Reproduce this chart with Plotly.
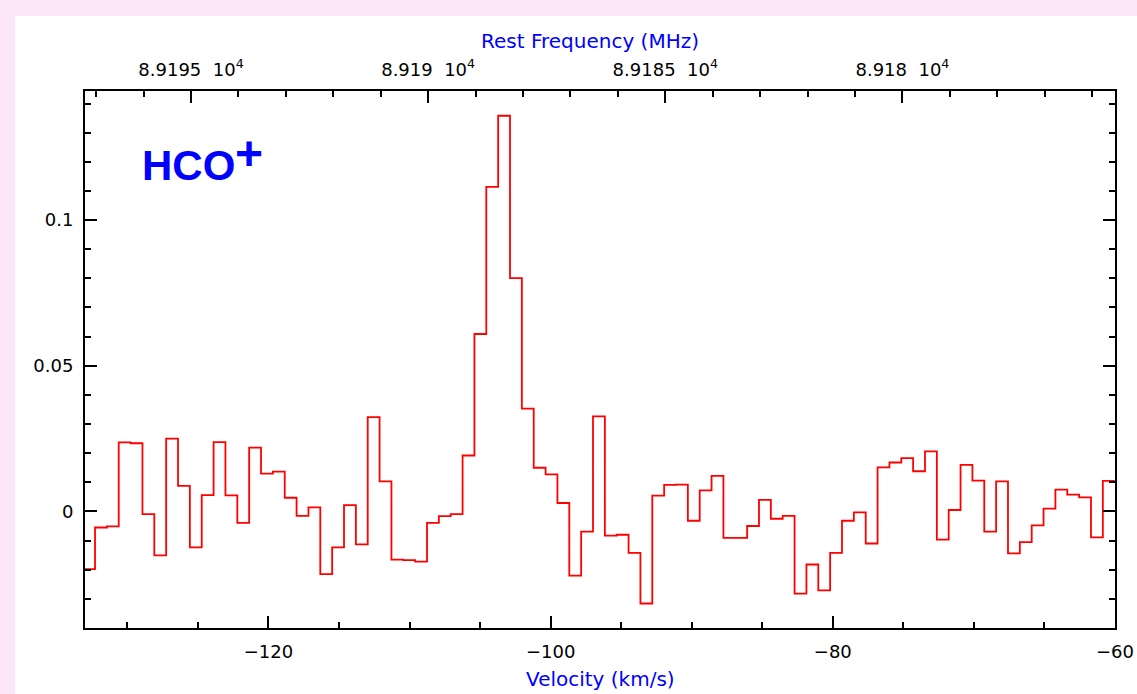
import plotly.graph_objects as go

# ---------------- data ----------------
# spectral axis: channel grid (km/s)
CHAN_WIDTH = 0.84033        # channel width (0.25 MHz) in km/s
FIRST_CENTER = -132.71      # centre of first (partially visible) channel

# antenna temperature per channel (K)
intensity = [
    -0.0198, -0.0055, -0.0051, 0.0237, 0.0234, -0.0009, -0.0151, 0.0250, 0.0088, -0.0123,
    0.0056, 0.0238, 0.0055, -0.0039, 0.0219, 0.0130, 0.0137, 0.0047, -0.0015, 0.0014,
    -0.0215, -0.0123, 0.0022, -0.0113, 0.0324, 0.0103, -0.0165, -0.0167, -0.0172, -0.0039,
    -0.0016, -0.0009, 0.0192, 0.0609, 0.1114, 0.1358, 0.0801, 0.0353, 0.0150, 0.0127,
    0.0029, -0.0220, -0.0069, 0.0326, -0.0083, -0.0080, -0.0142, -0.0316, 0.0054, 0.0091,
    0.0092, -0.0032, 0.0072, 0.0122, -0.0091, -0.0091, -0.0050, 0.0040, -0.0025, -0.0015,
    -0.0282, -0.0182, -0.0271, -0.0142, -0.0032, -0.0003, -0.0110, 0.0151, 0.0168, 0.0183,
    0.0138, 0.0206, -0.0097, 0.0005, 0.0160, 0.0106, -0.0069, 0.0103, -0.0144, -0.0105,
    -0.0048, 0.0010, 0.0075, 0.0058, 0.0048, -0.0089, 0.0105,
]
velocity = [FIRST_CENTER + i * CHAN_WIDTH for i in range(len(intensity))]

# rest frequency <-> velocity relation (MHz)
F_REF, V_REF, DF_DV = 89190.0, -108.68, -0.2975
def to_freq(v):
    return F_REF + DF_DV * (v - V_REF)

VEL_RANGE = [-133.0, -60.0]
Y_RANGE = [-0.04, 0.1443]
freq_tickvals = [89195, 89190, 89185, 89180]
freq_ticktext = ["8.9195\u00a0\u00a010<sup>4</sup>", "8.919\u00a0\u00a010<sup>4</sup>",
                 "8.9185\u00a0\u00a010<sup>4</sup>", "8.918\u00a0\u00a010<sup>4</sup>"]

# ---------------- step line ----------------
edges = [v - CHAN_WIDTH / 2 for v in velocity] + [velocity[-1] + CHAN_WIDTH / 2]
step_y = intensity + [intensity[-1]]

W, H = 1137, 694
ML, MR, MT, MB = 85, 22, 91, 66
PW, PH = W - ML - MR, H - MT - MB
def px(x):
    return (x - ML) / PW
def py(y):
    return (H - MB - y) / PH

PINK = "#fce6fa"
FONT = "DejaVu Sans"
fig = go.Figure()
fig.add_trace(go.Scatter(x=edges, y=step_y, mode="lines", line_shape="hv",
                         line=dict(color="#ff0000", width=1.8),
                         hoverinfo="skip", showlegend=False))
fig.add_trace(go.Scatter(x=[to_freq(e) for e in edges], y=step_y, mode="lines",
                         line=dict(color="rgba(0,0,0,0)", width=0), xaxis="x2",
                         hoverinfo="skip", showlegend=False))

axis_common = dict(showline=True, linecolor="black", linewidth=2, ticks="inside",
                   tickcolor="black", tickwidth=2, ticklen=12, showgrid=False,
                   zeroline=False, automargin=False,
                   tickfont=dict(family=FONT, size=18, color="black"))

fig.update_layout(
    width=W, height=H,
    margin=dict(l=ML, r=MR, t=MT, b=MB, pad=0, autoexpand=False),
    paper_bgcolor=PINK, plot_bgcolor="white",
    xaxis=dict(range=VEL_RANGE, dtick=20, tick0=-120,
               minor=dict(dtick=5, tick0=-130, ticklen=6, tickwidth=2, tickcolor="black", ticks="inside"),
               ticklabelstandoff=6, **axis_common),
    xaxis2=dict(range=[to_freq(VEL_RANGE[0]), to_freq(VEL_RANGE[1])], overlaying="x", side="top",
                tickmode="array", tickvals=freq_tickvals, ticktext=freq_ticktext,
                minor=dict(tickmode="linear", dtick=1, tick0=89175, ticklen=6, tickwidth=2,
                           tickcolor="black", ticks="inside"),
                ticklabelstandoff=6, **axis_common),
    yaxis=dict(range=Y_RANGE, dtick=0.05, tick0=0, mirror="ticks",
               minor=dict(dtick=0.01, tick0=0, ticklen=6, tickwidth=2, tickcolor="black", ticks="inside"),
               ticklabelstandoff=6, **axis_common),
    shapes=[dict(type="rect", xref="paper", yref="paper", x0=px(15), x1=px(W + 20),
                 y0=py(H + 20), y1=py(16), fillcolor="white", line=dict(width=0), layer="below")],
    annotations=[
        dict(text="Rest Frequency (MHz)", x=px(590), y=py(41), xref="paper", yref="paper",
             showarrow=False, xanchor="center", yanchor="middle",
             font=dict(family=FONT, size=20, color="#0000ff")),
        dict(text="Velocity (km/s)", x=px(600), y=py(679), xref="paper", yref="paper",
             showarrow=False, xanchor="center", yanchor="middle",
             font=dict(family=FONT, size=20, color="#0000ff")),
        dict(text="<b>HCO</b>", x=px(188), y=py(165), xref="paper", yref="paper",
             showarrow=False, xanchor="center", yanchor="middle",
             font=dict(family="Liberation Sans", size=42, color="#0000ff")),
        dict(text="<b>+</b>", x=px(249), y=py(153), xref="paper", yref="paper",
             showarrow=False, xanchor="center", yanchor="middle",
             font=dict(family="Liberation Sans", size=48, color="#0000ff")),
    ],
)

page_css = ("document.body.style.margin='0';"
            "document.body.style.background='" + PINK + "';"
            "document.documentElement.style.overflow='hidden';")
fig.write_html("out.html", post_script=page_css, config={"displayModeBar": False})
